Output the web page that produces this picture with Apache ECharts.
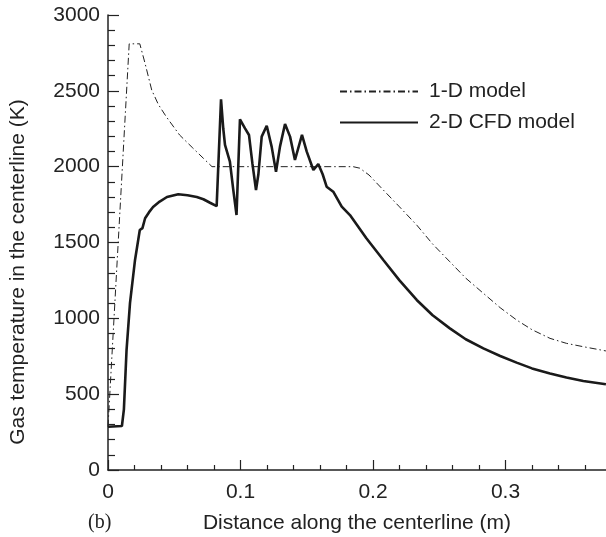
<!DOCTYPE html>
<html lang="en">
<head>
    <meta charset="utf-8">
    <title>Gas temperature along the centerline</title>
    <script src="https://cdn.jsdelivr.net/npm/echarts@6/dist/echarts.min.js"></script>
    <style>
        html, body { margin: 0; padding: 0; background: #fff; }
        #tx1 { width: 606px; height: 537px; }
    </style>
</head>
<body>
<div id="tx1"></div>
<script type="text/javascript">
    // 1-D model, [distance (m), temperature (K)]
    var oneD = [
        [0, 285], [0.016, 2810], [0.024, 2810], [0.028, 2680], [0.033, 2505], [0.038, 2410],
        [0.044, 2329], [0.054, 2209], [0.064, 2123], [0.072, 2055], [0.0785, 2000],
        [0.185, 2000], [0.19, 1990], [0.197, 1945], [0.2078, 1846], [0.22, 1735], [0.233, 1615],
        [0.245, 1490], [0.258, 1373], [0.27, 1265], [0.2833, 1165], [0.296, 1070], [0.3084, 989],
        [0.32, 925], [0.3336, 868], [0.346, 835], [0.3587, 813], [0.3758, 785]
    ];
    // 2-D CFD model
    var twoD = [
        [0, 285], [0.0105, 290], [0.012, 400], [0.014, 791], [0.0166, 1100], [0.0204, 1385],
        [0.024, 1582], [0.026, 1595], [0.028, 1660], [0.031, 1700], [0.034, 1734], [0.039, 1770],
        [0.0445, 1800], [0.053, 1818], [0.06, 1812], [0.067, 1800], [0.072, 1785], [0.077, 1762],
        [0.082, 1740], [0.0853, 2444], [0.087, 2250], [0.0883, 2143], [0.092, 2033], [0.0945, 1850],
        [0.097, 1681], [0.0996, 2312], [0.1034, 2253], [0.1064, 2209], [0.109, 2020], [0.1117, 1846],
        [0.1135, 1950], [0.116, 2198], [0.1198, 2270], [0.1235, 2132], [0.1268, 1967], [0.1298, 2132],
        [0.1336, 2281], [0.1374, 2198], [0.1411, 2044], [0.1464, 2209], [0.15, 2099], [0.155, 1978],
        [0.1587, 2017], [0.162, 1950], [0.165, 1868], [0.17, 1835], [0.1764, 1736], [0.1826, 1681],
        [0.195, 1528], [0.2078, 1385], [0.22, 1250], [0.233, 1121], [0.245, 1020], [0.258, 934],
        [0.27, 862], [0.2833, 802], [0.296, 752], [0.3084, 708], [0.32, 670], [0.3336, 637],
        [0.346, 610], [0.3587, 587], [0.3758, 565]
    ];
    var seriesNames = ['1-D model', '2-D CFD model'];
    var xLabels = ['0', '0.1', '0.2', '0.3'];

    var font = 'Liberation Sans, Arial, sans-serif';
    var ink = '#222';

    var myChart = echarts.init(document.getElementById('tx1'));
    var option = {
        animation: false,
        grid: { left: 108, top: 15, height: 455, width: 530, outerBoundsMode: 'none', containLabel: false },
        legend: {
            orient: 'vertical',
            left: 334,
            top: 76,
            itemWidth: 78,
            itemHeight: 14,
            itemGap: 10,
            data: seriesNames,
            itemStyle: { opacity: 0 },
            textStyle: { fontFamily: font, fontSize: 21, color: ink, padding: [0, 0, 0, 6] }
        },
        xAxis: {
            type: 'value',
            min: 0,
            max: 0.4,
            interval: 0.1,
            axisLine: { lineStyle: { color: ink, width: 1.5 } },
            axisTick: { inside: true, length: 10, lineStyle: { color: ink, width: 1.2 } },
            minorTick: { show: true, splitNumber: 5, length: 5, lineStyle: { color: ink, width: 1.2 } },
            splitLine: { show: false },
            axisLabel: {
                margin: 12,
                fontFamily: font, fontSize: 21, color: ink,
                formatter: function (v) {
                    var i = Math.round(v * 10);
                    return xLabels[i] !== undefined ? xLabels[i] : '';
                }
            }
        },
        yAxis: {
            type: 'value',
            min: 0,
            max: 3000,
            interval: 500,
            axisLine: { show: true, lineStyle: { color: ink, width: 1.5 } },
            axisTick: { show: true, inside: true, length: 11, lineStyle: { color: ink, width: 1.2 } },
            minorTick: { show: true, splitNumber: 5, length: 7, lineStyle: { color: ink, width: 1.2 } },
            splitLine: { show: false },
            axisLabel: {
                margin: 8, fontFamily: font, fontSize: 21, color: ink,
                formatter: function (v) { return String(v); }
            }
        },
        graphic: [
            {
                type: 'text',
                x: 357, y: 523,
                style: {
                    text: 'Distance along the centerline (m)', fontFamily: font, fontSize: 21,
                    fill: ink, align: 'center', verticalAlign: 'middle'
                }
            },
            {
                type: 'text',
                x: 18, y: 272,
                rotation: Math.PI / 2,
                style: {
                    text: 'Gas temperature in the centerline (K)', fontFamily: font, fontSize: 21,
                    fill: ink, align: 'center', verticalAlign: 'middle'
                }
            },
            {
                type: 'text',
                x: 88, y: 523,
                style: { text: '(b)', fontFamily: 'Liberation Serif, Times New Roman, serif', fontSize: 20, fill: ink, verticalAlign: 'middle' }
            }
        ],
        series: [
            {
                name: seriesNames[0],
                type: 'line',
                data: oneD,
                symbol: 'none',
                itemStyle: { color: ink },
                lineStyle: { color: ink, width: 1, type: [7, 3, 1.5, 3] }
            },
            {
                name: seriesNames[1],
                type: 'line',
                data: twoD,
                symbol: 'none',
                itemStyle: { color: '#1a1a1a' },
                lineStyle: { color: '#1a1a1a', width: 2.6 }
            }
        ]
    };
    myChart.setOption(option);
</script>
</body>
</html>
